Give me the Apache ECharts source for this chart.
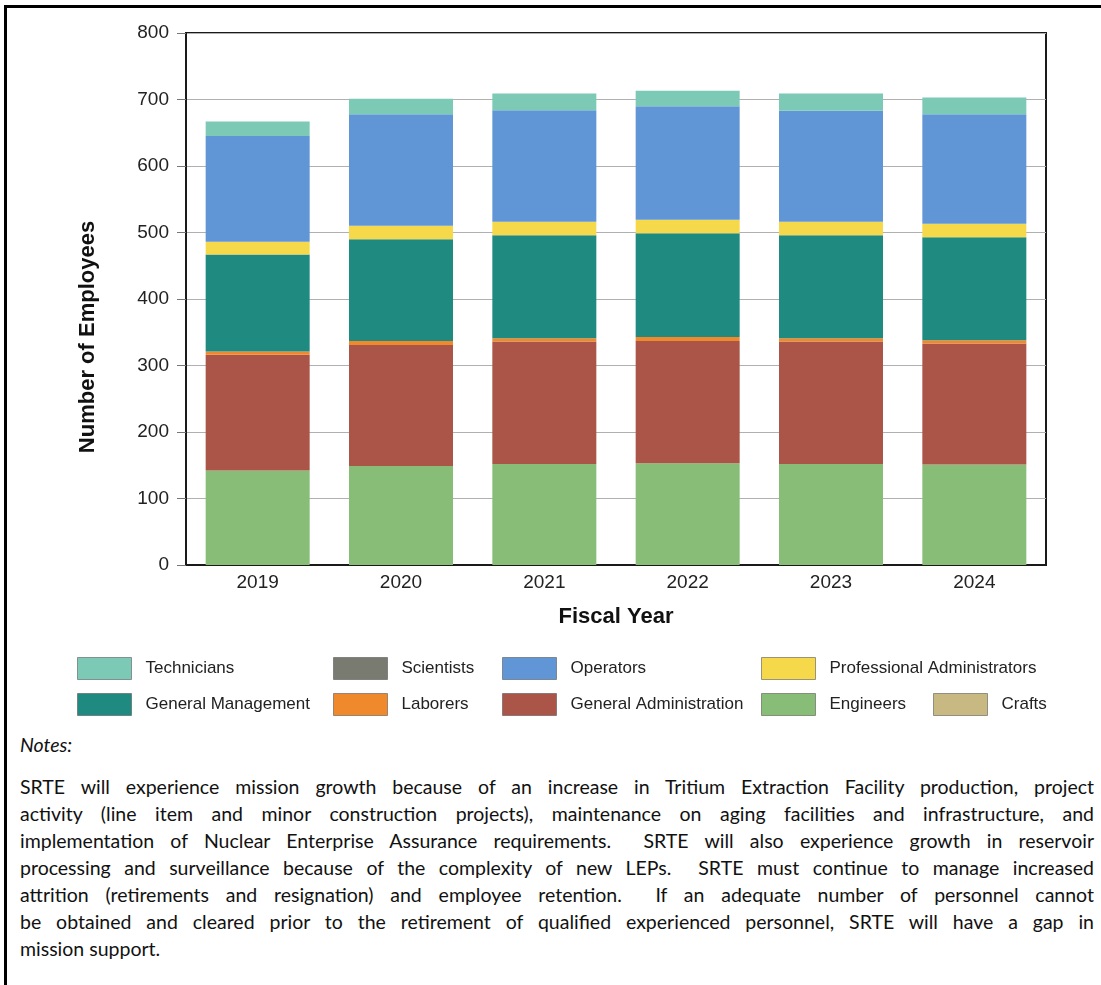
<!DOCTYPE html>
<html>
<head>
<meta charset="utf-8">
<title>SRTE Employees by Fiscal Year</title>
<script src="https://cdn.jsdelivr.net/npm/echarts/dist/echarts.min.js"></script>
<style>
    html, body { margin: 0; padding: 0; background: #fff; }
    #page { position: relative; width: 1101px; height: 985px; overflow: hidden; }
    #frame { position: absolute; left: 4px; top: 5px; right: -5px; bottom: -5px; border-top: 3px solid #000; border-left: 3px solid #000; }
    #my_echart { position: absolute; left: 0; top: 0; width: 1101px; height: 730px; }
    #notes { position: absolute; left: 20px; top: 731px; width: 1074px; font-family: Lato, "Open Sans", sans-serif; color: #111; }
    #notes .title { font-style: italic; font-size: 19.5px; line-height: 27px; }
    #notes .text { margin-top: 15px; font-size: 19.5px; line-height: 27px; }
    #notes .line { text-align: justify; text-align-last: justify; white-space: nowrap; }
    #notes .line.last { text-align-last: left; }
</style>
</head>
<body>
<div id="page">
    <div id="frame"></div>
    <div id="my_echart"></div>
    <div id="notes">
        <div class="title">Notes:</div>
        <div class="text">
            <div class="line">SRTE will experience mission growth because of an increase in Tritium Extraction Facility production, project</div>
            <div class="line">activity (line item and minor construction projects), maintenance on aging facilities and infrastructure, and</div>
            <div class="line">implementation of Nuclear Enterprise Assurance requirements.&nbsp; SRTE will also experience growth in reservoir</div>
            <div class="line">processing and surveillance because of the complexity of new LEPs.&nbsp; SRTE must continue to manage increased</div>
            <div class="line">attrition (retirements and resignation) and employee retention.&nbsp; If an adequate number of personnel cannot</div>
            <div class="line">be obtained and cleared prior to the retirement of qualified experienced personnel, SRTE will have a gap in</div>
            <div class="line last">mission support.</div>
        </div>
    </div>
</div>
<script>
// 数据
var years = ['2019', '2020', '2021', '2022', '2023', '2024'];
var engineers = [142, 149, 152, 153, 152, 151];
var crafts = [0, 0, 0, 0, 0, 0];
var generalAdministration = [174, 182, 184, 184, 184, 182];
var laborers = [5, 6, 5, 6, 5, 5];
var generalManagement = [146, 153, 155, 156, 155, 155];
var scientists = [0, 0, 0, 0, 0, 0];
var professionalAdministrators = [19, 20, 20, 20, 20, 20];
var operators = [159, 168, 168, 171, 167, 165];
var technicians = [22, 23, 25, 23, 26, 25];

var FONT = '"Liberation Sans", Arial, sans-serif';

// 堆叠顺序（从下往上）
var stackSeries = [
    { name: 'Engineers', data: engineers, color: '#88bd77' },
    { name: 'Crafts', data: crafts, color: '#c8b882' },
    { name: 'General Administration', data: generalAdministration, color: '#ab5549' },
    { name: 'Laborers', data: laborers, color: '#f0882c' },
    { name: 'General Management', data: generalManagement, color: '#1f8a80' },
    { name: 'Scientists', data: scientists, color: '#7a7b70' },
    { name: 'Professional Administrators', data: professionalAdministrators, color: '#f6d94b' },
    { name: 'Operators', data: operators, color: '#6196d6' },
    { name: 'Technicians', data: technicians, color: '#7ccab6' }
];

// 图例位置（与原图一致）
var legendPos = [
    ['Technicians', 77, 657], ['Scientists', 333, 657], ['Operators', 502, 657], ['Professional Administrators', 761, 657],
    ['General Management', 77, 693], ['Laborers', 333, 693], ['General Administration', 502, 693],
    ['Engineers', 761, 693], ['Crafts', 933, 693]
];

var mychart = echarts.init(document.getElementById('my_echart'));

mychart.setOption({
    animation: false,
    textStyle: { fontFamily: FONT },
    legend: legendPos.map(function (p) {
        return {
            data: [p[0]],
            left: p[1],
            top: p[2],
            icon: 'rect',
            itemWidth: 54,
            itemHeight: 22,
            padding: 0,
            selectedMode: false,
            itemStyle: { borderColor: 'rgba(90,90,90,0.6)', borderWidth: 1 },
            textStyle: { fontSize: 17, color: '#222', fontFamily: FONT, padding: [0, 0, 0, 9] }
        };
    }),
    grid: {
        left: 186,
        top: 33,
        width: 860,
        height: 532,
        show: true,
        borderColor: '#1a1a1a',
        borderWidth: 2,
        containLabel: false
    },
    xAxis: {
        type: 'category',
        data: years,
        name: 'Fiscal Year',
        nameLocation: 'middle',
        nameGap: 41,
        nameTextStyle: { fontSize: 22, fontWeight: 'bold', color: '#111', fontFamily: FONT },
        axisLine: { lineStyle: { color: '#1a1a1a', width: 2 } },
        axisTick: { show: false },
        axisLabel: { fontSize: 19, color: '#222', margin: 8 }
    },
    yAxis: {
        type: 'value',
        min: 0,
        max: 800,
        interval: 100,
        name: 'Number of Employees',
        nameLocation: 'middle',
        nameRotate: 90,
        nameGap: 87,
        nameTextStyle: { fontSize: 22, fontWeight: 'bold', color: '#111', fontFamily: FONT, padding: [0, 76, 0, 0] },
        axisLine: { show: true, lineStyle: { color: '#1a1a1a', width: 2 } },
        axisTick: { show: true, length: 9, lineStyle: { color: '#777' } },
        axisLabel: { fontSize: 19, color: '#222', margin: 17 },
        splitLine: { lineStyle: { color: '#b0b0b0', width: 1 } }
    },
    series: stackSeries.map(function (s) {
        return {
            name: s.name,
            type: 'bar',
            stack: 'total',
            barWidth: 104,
            data: s.data,
            itemStyle: { color: s.color }
        };
    })
});
</script>
</body>
</html>
